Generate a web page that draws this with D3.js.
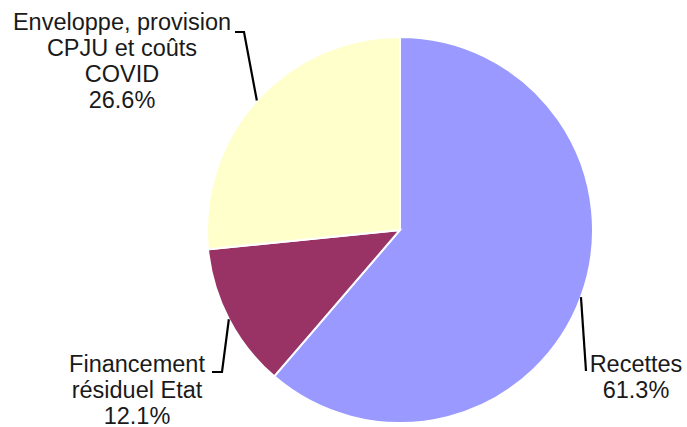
<!DOCTYPE html>
<html><head><meta charset="utf-8">
<script src="https://cdn.jsdelivr.net/npm/d3@7"></script>
<style>html,body{margin:0;padding:0;background:#fff;}svg{display:block;}</style>
</head><body>
<svg id="chart" width="687" height="427"></svg>
<script>
const categories = ["Recettes", "Financement résiduel Etat", "Enveloppe, provision CPJU et coûts COVID"];
const values = [61.3, 12.1, 26.6];
const labelLines = [["Recettes", "61.3%"], ["Financement", "résiduel Etat", "12.1%"], ["Enveloppe, provision", "CPJU et coûts", "COVID", "26.6%"]];
const colors = ["#9999FF", "#993366", "#FFFFCC"];

const svg = d3.select("#chart");
const cx = 400, cy = 230, r = 193;
const g = svg.append("g").attr("transform", `translate(${cx},${cy})`);
const pie = d3.pie().sort(null).value(d => d)(values);
const arc = d3.arc().innerRadius(0).outerRadius(r);
g.selectAll("path.slice").data(pie).enter().append("path")
  .attr("d", arc).attr("fill", (d, i) => colors[i])
  .attr("stroke", "#fff").attr("stroke-width", 2);

const layout = [
  {x: 636, y: 372, pts: [[586, 371]]},
  {x: 137, y: 372, pts: [[222, 372], [212, 372]]},
  {x: 122, y: 30, pts: [[244, 32], [235, 32]]}
];
pie.forEach((d, i) => {
  const a = (d.startAngle + d.endAngle) / 2;
  const sx = cx + r * Math.sin(a), sy = cy - r * Math.cos(a);
  const pts = [[sx, sy]].concat(layout[i].pts);
  svg.append("path").attr("d", d3.line()(pts))
    .attr("fill", "none").attr("stroke", "#000").attr("stroke-width", 2.2);
  const t = svg.append("text").attr("text-anchor", "middle")
    .attr("font-family", "Liberation Sans, Arial, sans-serif").attr("font-size", 23.5)
    .attr("fill", "#1a1a1a");
  labelLines[i].forEach((s, j) => {
    t.append("tspan").attr("x", layout[i].x).attr("y", layout[i].y + j * 26).text(s);
  });
});
</script>
</body></html>
